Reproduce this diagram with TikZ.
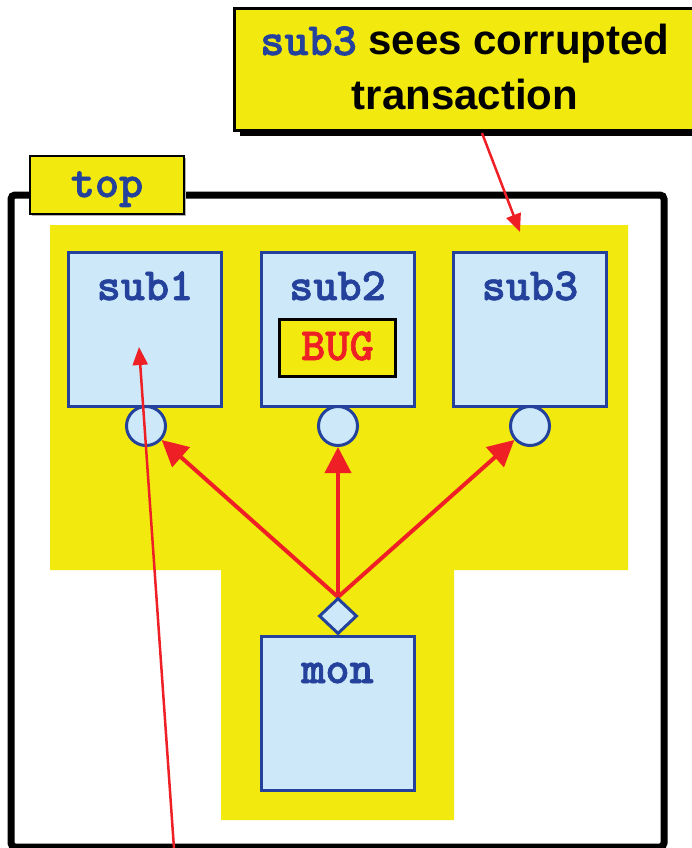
\documentclass[tikz,border=0pt]{standalone}
\usepackage{fontspec}
\setmainfont{Liberation Sans}
\newfontfamily\cour{lmmonolt10-bold.otf}[FakeBold=1.5]
\usetikzlibrary{shapes.geometric,arrows.meta}
\definecolor{yel}{RGB}{242,233,14}
\definecolor{lblue}{RGB}{205,233,249}
\definecolor{dblue}{RGB}{36,66,156}
\definecolor{rred}{RGB}{238,32,38}
\newcommand{\codefont}{\cour\fontsize{46}{52}\selectfont}
\tikzset{
  subbox/.style={draw=dblue, fill=lblue, line width=3pt, minimum width=153pt, minimum height=154pt, inner sep=0pt},
  codetxt/.style={text=dblue, font=\codefont, anchor=base, inner sep=0pt},
  port/.style={circle, draw=dblue, fill=lblue, line width=3pt, minimum size=39pt, inner sep=0pt},
  dia/.style={diamond, draw=dblue, fill=lblue, line width=3pt, minimum width=38pt, minimum height=36pt, inner sep=0pt},
  thickarrow/.style={draw=rred, line width=4pt, -{Triangle[length=26pt,width=26pt]}},
  thinarrow/.style={draw=rred, line width=2.5pt, -{Triangle[length=18pt,width=15pt]}},
  labelbox/.style={draw=black, fill=yel, line width=2.5pt, inner sep=0pt},
}
\begin{document}
\begin{tikzpicture}[x=1pt,y=-1pt]
\useasboundingbox (0,0) rectangle (692,848);
\clip (0,0) rectangle (692,848);
% outer frame
\draw[line width=7pt, rounded corners=4pt] (11,195) rectangle (664,847);
% top label
\fill[gray!60] (32,158) rectangle (186,216);
\node[labelbox, minimum width=154pt, minimum height=58pt] (toplbl) at (107,185) {};
\node[codetxt] (toptxt) at (107,197) {top};
% yellow T region
\fill[yel] (50,225) -- (628,225) -- (628,570) -- (454,570) -- (454,820) -- (221,820) -- (221,570) -- (50,570) -- cycle;
% sub boxes
\node[subbox] (s1) at (145,329) {};
\node[subbox] (s2) at (337.5,329) {};
\node[subbox] (s3) at (530,329) {};
\node[codetxt] (s1t) at (145,300) {sub1};
\node[codetxt] (s2t) at (337.5,300) {sub2};
\node[codetxt] (s3t) at (530,300) {sub3};
% BUG box
\node[labelbox, minimum width=116pt, minimum height=57pt] (bug) at (337.5,348) {};
\node[codetxt, text=rred] (bugt) at (337.5,360) {BUG};
% ports
\node[port] (c1) at (146,426) {};
\node[port] (c2) at (338,426) {};
\node[port] (c3) at (530,426) {};
% mon
\node[subbox] (mon) at (337.5,713) {};
\node[codetxt] (mont) at (337.5,683) {mon};
% diamond and arrows
\coordinate (diatop) at (338,597);
\draw[thickarrow] (diatop) -- (c1);
\draw[thickarrow] (diatop) -- (c2);
\draw[thickarrow] (diatop) -- (c3);
\node[dia] (d) at (338,616) {};
% callout
\fill[black] (240,14) rectangle (706,136);
\node[labelbox, line width=3pt, minimum width=470pt, minimum height=122pt] (callout) at (469.5,69.5) {};
\node[anchor=base, inner sep=0pt, font=\bfseries\fontsize{42}{50}\selectfont] (cl1) at (465,55) {{\codefont\color{dblue}sub3} sees corrupted};
\node[anchor=base, inner sep=0pt, font=\bfseries\fontsize{42}{50}\selectfont] (cl2) at (465,110) {transaction};
% thin red arrows
\coordinate (calsrc) at (482,133);
\coordinate (calend) at (520,232);
\draw[thinarrow] (calsrc) -- (calend);
\coordinate (bugsrc) at (175.5,870);
\coordinate (bugend) at (139,347);
\draw[thinarrow] (bugsrc) -- (bugend);
\end{tikzpicture}
\end{document}
